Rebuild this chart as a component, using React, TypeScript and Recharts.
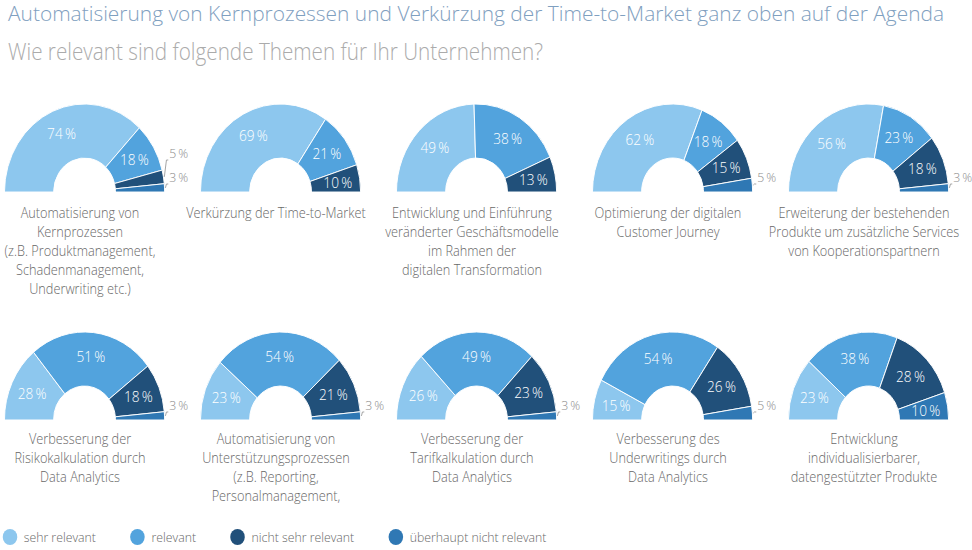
import React from 'react';
import { PieChart, Pie, Cell } from 'recharts';

// horizontal compression of the reference picture
const SX = 0.91;
const W = 972;
const H = 550;
const VW = W / SX;

const titleText = 'Automatisierung von Kernprozessen und Verkürzung der Time-to-Market ganz oben auf der Agenda';
const subtitleText = 'Wie relevant sind folgende Themen für Ihr Unternehmen?';

const categories = ['sehr relevant', 'relevant', 'nicht sehr relevant', 'überhaupt nicht relevant'];
const colors = ['#8dc7ee', '#52a3dd', '#21507a', '#2f78b4'];

const topics: string[][] = [
  ['Automatisierung von', 'Kernprozessen', '(z.B. Produktmanagement,', 'Schadenmanagement,', 'Underwriting etc.)'],
  ['Verkürzung der Time-to-Market'],
  ['Entwicklung und Einführung', 'veränderter Geschäftsmodelle', 'im Rahmen der', 'digitalen Transformation'],
  ['Optimierung der digitalen', 'Customer Journey'],
  ['Erweiterung der bestehenden', 'Produkte um zusätzliche Services', 'von Kooperationspartnern'],
  ['Verbesserung der', 'Risikokalkulation durch', 'Data Analytics'],
  ['Automatisierung von', 'Unterstützungsprozessen', '(z.B. Reporting,', 'Personalmanagement,'],
  ['Verbesserung der', 'Tarifkalkulation durch', 'Data Analytics'],
  ['Verbesserung des', 'Underwritings durch', 'Data Analytics'],
  ['Entwicklung', 'individualisierbarer,', 'datengestützter Produkte'],
];

const sehrRelevant = [74, 69, 49, 62, 56, 28, 23, 26, 15, 23];
const relevant = [18, 21, 38, 18, 23, 51, 54, 49, 54, 38];
const nichtSehrRelevant = [5, 10, 13, 15, 18, 18, 21, 23, 26, 28];
const ueberhauptNicht = [3, 0, 0, 5, 3, 3, 3, 3, 5, 10];

const seriesValues = [sehrRelevant, relevant, nichtSehrRelevant, ueberhauptNicht];

// layout (styles)
const COL_X = [80, 276, 472, 668, 864];
const ROW_Y = [187, 415];
const CAPTION_TOP = [203, 429];
const INNER_R = 34;
const OUTER_R = 88;

const FONT = '"Open Sans", "Segoe UI", sans-serif';

const pieData = topics.map((_, i) =>
  seriesValues
    .map((vals, c) => ({ name: categories[c], value: vals[i], cat: c }))
    .filter((d) => d.value > 0)
);

const RAD = Math.PI / 180;

const renderLabel = (props: any) => {
  const { cx, cy, midAngle, innerRadius, outerRadius, value, payload } = props;
  const cat = payload && payload.cat !== undefined ? payload.cat : props.cat;
  const txt = `${value}\u2009%`;
  if (value <= 5) {
    const ly = cy - (cat === 3 ? 15 : 39);
    const lx = cx + outerRadius + 5;
    const ex = cx + outerRadius * Math.cos(-midAngle * RAD);
    const ey = cy + outerRadius * Math.sin(-midAngle * RAD);
    return (
      <g>
        <polyline
          points={`${ex + 1},${ey} ${lx - 3},${ly + 7} ${lx - 1},${ly + 7}`}
          fill="none"
          stroke="#a0a0a0"
          strokeWidth={1}
        />
        <text x={lx} y={ly} fill="#8a8a8a" fontSize={13.5} fontFamily={FONT} fontWeight={300} dominantBaseline="central" textAnchor="start">
          {txt}
        </text>
      </g>
    );
  }
  const r = innerRadius + (outerRadius - innerRadius) * 0.55;
  const x = cx + r * Math.cos(-midAngle * RAD);
  const y = cy + r * Math.sin(-midAngle * RAD);
  return (
    <text x={x} y={y} fill="#ffffff" fontSize={15} fontFamily={FONT} fontWeight={300} dominantBaseline="central" textAnchor="middle">
      {txt}
    </text>
  );
};

export default function App() {
  return (
    <div style={{ position: 'absolute', left: 0, top: 0, width: W, height: H, overflow: 'hidden', background: '#fff' }}>
      <svg width={W} height={70} style={{ position: 'absolute', left: 0, top: 0 }}>
        <text x={8} y={21} fontSize={21} fontWeight={300} fontFamily={FONT} fill="#7fa0c0" textLength={936} lengthAdjust="spacingAndGlyphs">
          {titleText}
        </text>
        <text x={8} y={59.5} fontSize={23} fontWeight={300} fontFamily={FONT} fill="#ababab" textLength={535} lengthAdjust="spacingAndGlyphs">
          {subtitleText}
        </text>
      </svg>
      <div style={{ position: 'absolute', left: 0, top: 0, width: VW, height: H, transform: `scaleX(${SX})`, transformOrigin: '0 0', fontFamily: FONT }}>
        <div style={{ position: 'absolute', left: 0, top: 0 }}>
          <PieChart width={VW} height={440}>
            {pieData.map((data, i) => (
              <Pie
                key={i}
                data={data}
                dataKey="value"
                nameKey="name"
                cx={COL_X[i % 5] / SX}
                cy={ROW_Y[Math.floor(i / 5)]}
                startAngle={180}
                endAngle={0}
                innerRadius={INNER_R}
                outerRadius={OUTER_R}
                stroke="#ffffff"
                strokeWidth={1}
                label={renderLabel}
                labelLine={false}
                isAnimationActive={false}
              >
                {data.map((d, j) => (
                  <Cell key={j} fill={colors[d.cat]} />
                ))}
              </Pie>
            ))}
          </PieChart>
        </div>

        {topics.map((lines, i) => (
          <div
            key={i}
            style={{
              position: 'absolute',
              left: COL_X[i % 5] / SX - 120,
              top: CAPTION_TOP[Math.floor(i / 5)],
              width: 240,
              textAlign: 'center',
              fontSize: 14,
              lineHeight: '19px',
              color: '#686868',
              fontWeight: 300,
            }}
          >
            {lines.map((l, k) => (
              <div key={k}>{l}</div>
            ))}
          </div>
        ))}

        <div style={{ position: 'absolute', left: 3, top: 528, display: 'flex', alignItems: 'center' }}>
          {categories.map((c, i) => (
            <div key={c} style={{ display: 'flex', alignItems: 'center', marginRight: 38 }}>
              <div style={{ width: 16, height: 16, borderRadius: 8, background: colors[i] }} />
              <div style={{ marginLeft: 7, fontSize: 13.5, color: '#686868', fontWeight: 300 }}>{c}</div>
            </div>
          ))}
        </div>
      </div>
    </div>
  );
}
